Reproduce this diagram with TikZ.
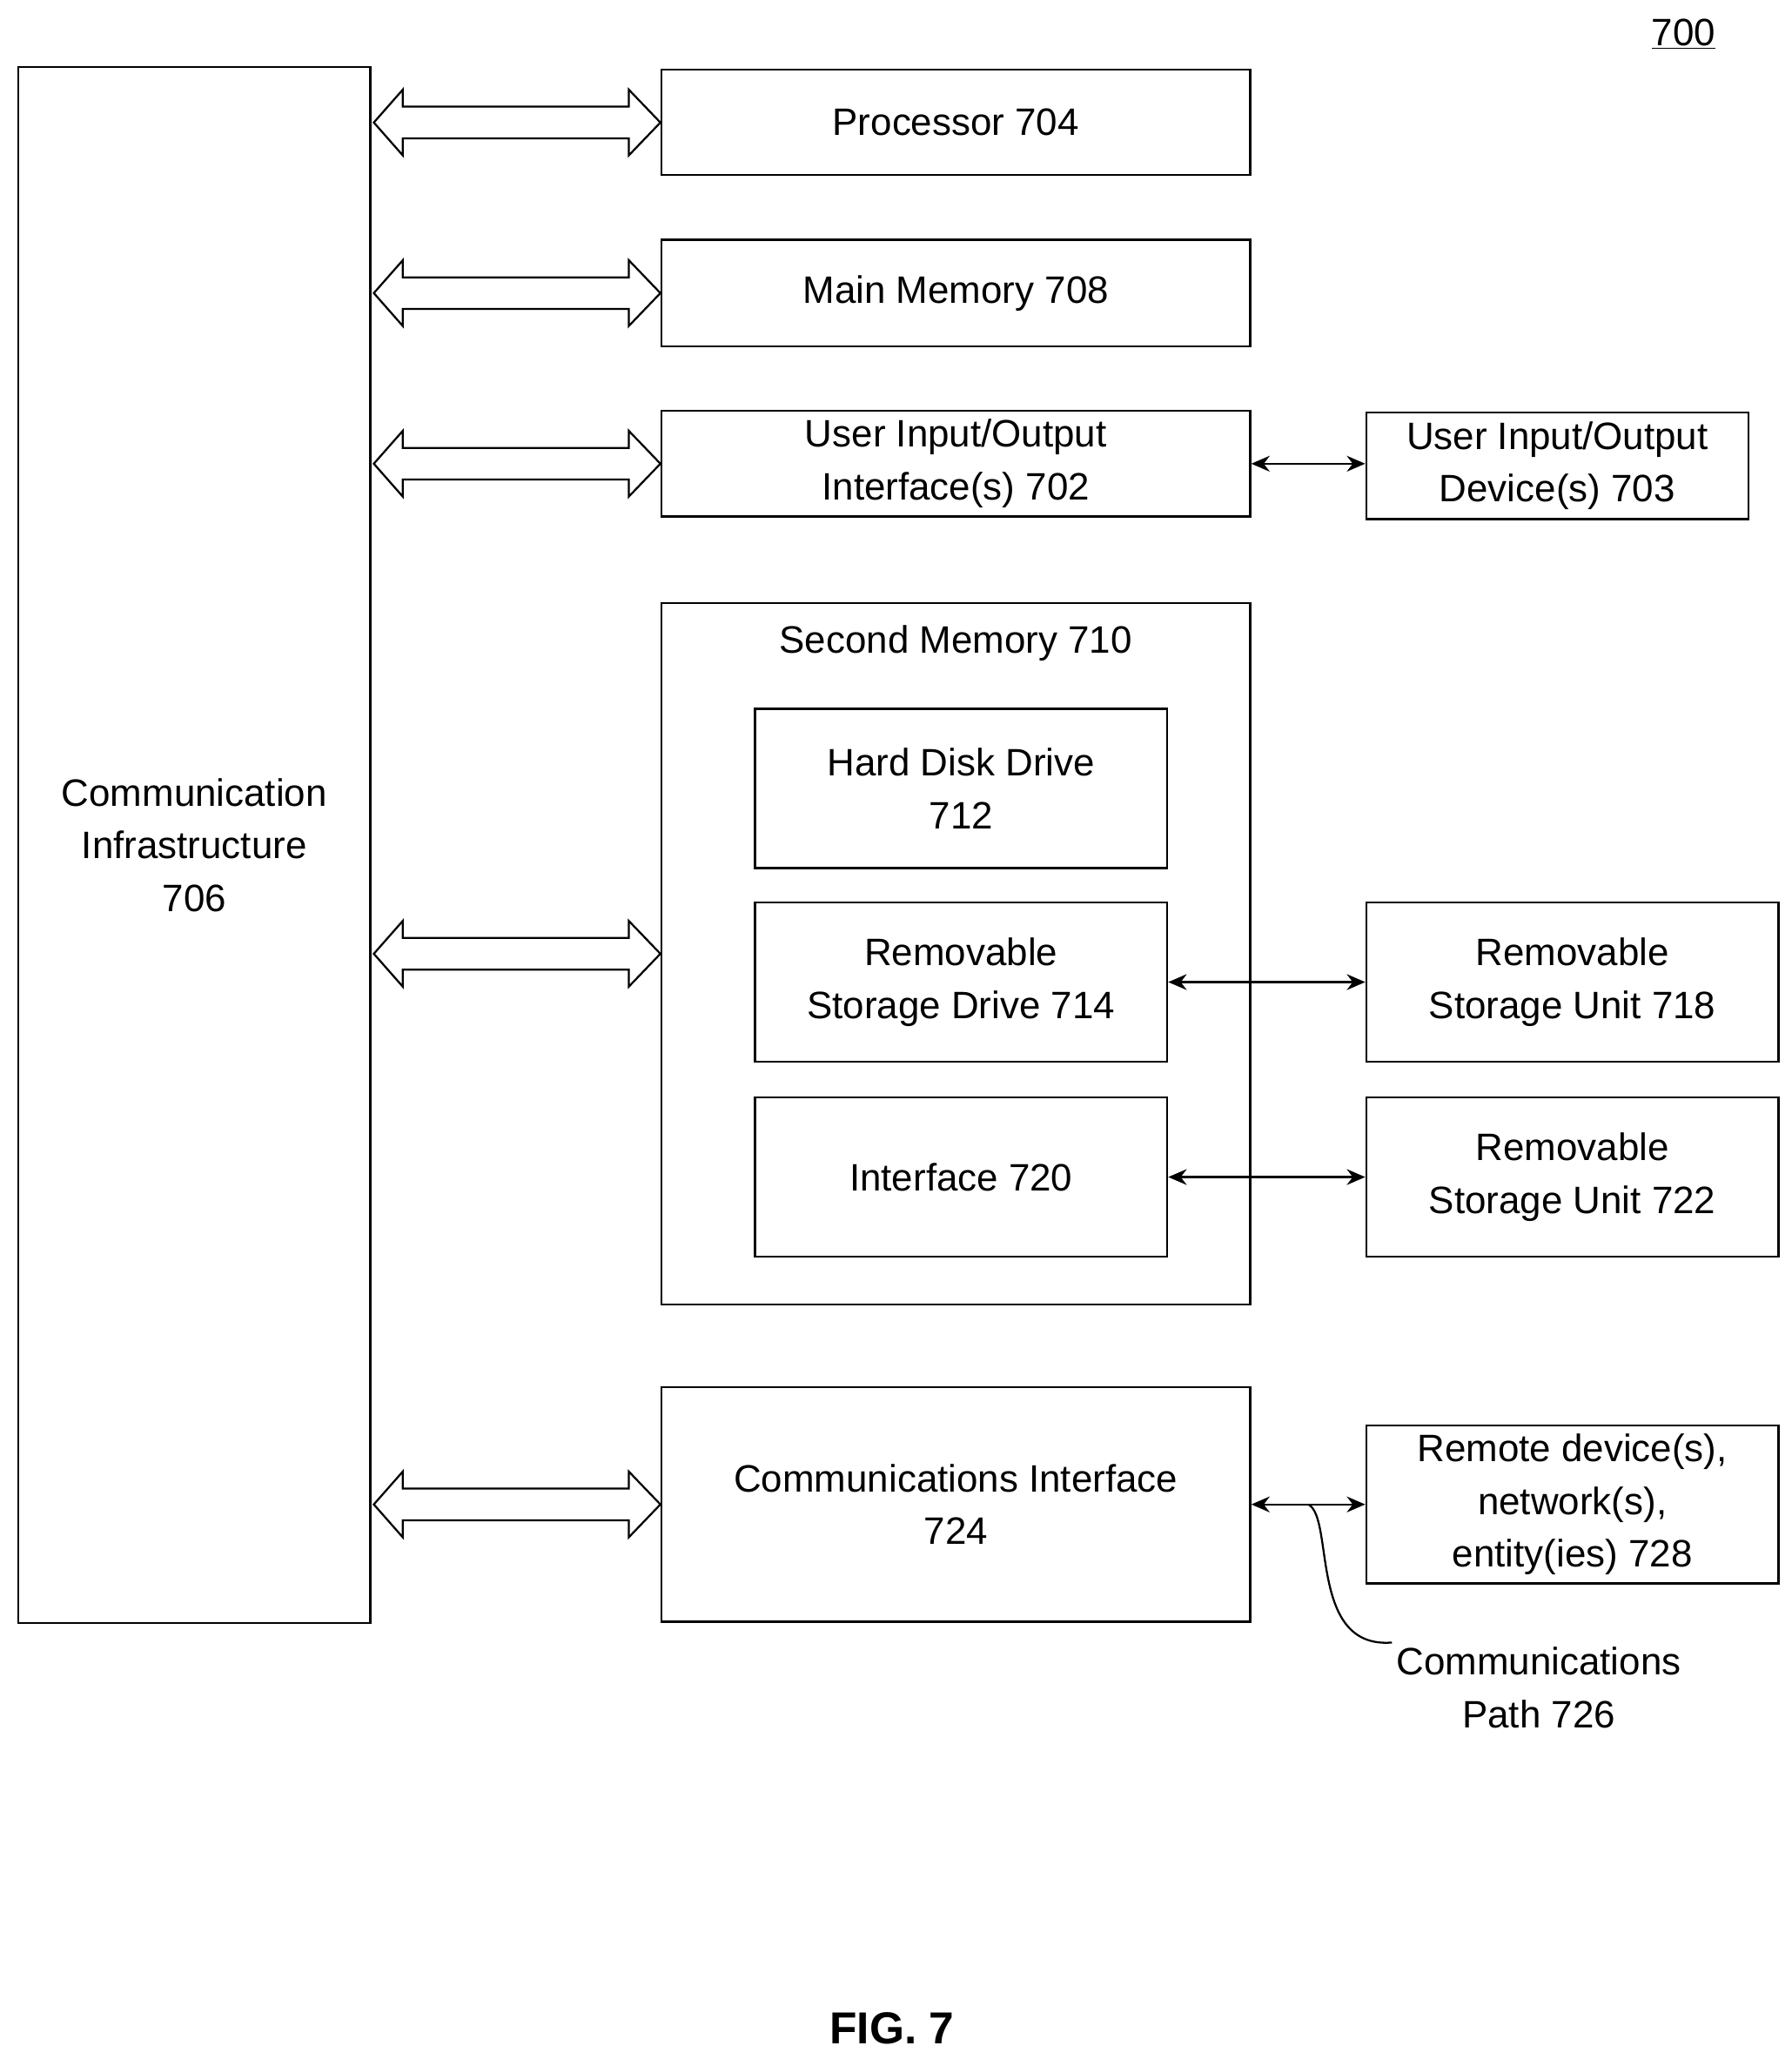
\documentclass[tikz,border=0pt]{standalone}
\usepackage{fontspec}
\setmainfont{Liberation Sans}
\usetikzlibrary{calc,arrows.meta}
\tikzset{
  box/.style={draw,line width=1.5pt,align=center,font=\fontsize{29}{40}\selectfont},
  link/.style={line width=1.5pt,{Stealth[length=14pt,width=12pt]}-{Stealth[length=14pt,width=12pt]}},
  bus/.style={draw,line width=1.5pt,fill=white}
}
% hollow double arrow from infra to a node's west side
\newcommand{\busarrow}[1]{%
  \path let \p1=(infra.east), \p2=(#1.west) in
    [bus] (\x1+2,\y2) -- (\x1+24,\y2+25) -- (\x1+24,\y2+12) -- (\x2-24,\y2+12) -- (\x2-24,\y2+25)
    -- (\x2,\y2) -- (\x2-24,\y2-25) -- (\x2-24,\y2-12) -- (\x1+24,\y2-12) -- (\x1+24,\y2-25) -- cycle;}
\begin{document}
\begin{tikzpicture}[x=1pt,y=1pt,yscale=-1]
\useasboundingbox (0,0) rectangle (1360,1563);
\node[box,minimum width=267pt,minimum height=1181pt] (infra) at (147.5,641.5) {Communication\\Infrastructure\\706};
\node[box,minimum width=447pt,minimum height=80pt] (proc) at (725.5,93) {Processor 704};
\node[box,minimum width=447pt,minimum height=81pt] (mem) at (725.5,222.5) {Main Memory 708};
\node[box,minimum width=447pt,minimum height=80pt] (uioif) at (725.5,352) {User Input/Output\\Interface(s) 702};
\node[box,minimum width=290pt,minimum height=81pt] (uiodev) at (1182,353.5) {User Input/Output\\Device(s) 703};
\node[box,minimum width=447pt,minimum height=532pt] (second) at (725.5,724) {};
\node[font=\fontsize{29}{40}\selectfont] (secondlbl) at (725.5,488) {Second Memory 710};
\node[box,minimum width=313pt,minimum height=121pt] (hdd) at (729.5,598.5) {Hard Disk Drive\\712};
\node[box,minimum width=313pt,minimum height=121pt] (rsd) at (729.5,745.5) {Removable\\Storage Drive 714};
\node[box,minimum width=313pt,minimum height=121pt] (iface) at (729.5,893.5) {Interface 720};
\node[box,minimum width=313pt,minimum height=121pt] (rsu1) at (1193.5,745.5) {Removable\\Storage Unit 718};
\node[box,minimum width=313pt,minimum height=121pt] (rsu2) at (1193.5,893.5) {Removable\\Storage Unit 722};
\node[box,minimum width=447pt,minimum height=178pt] (comm) at (725.5,1142) {Communications Interface\\724};
\node[box,minimum width=313pt,minimum height=120pt] (remote) at (1193.5,1142) {Remote device(s),\\network(s),\\entity(ies) 728};
\node[align=center,font=\fontsize{29}{40}\selectfont] (path) at (1168,1281) {Communications\\Path 726};
\node[font=\fontsize{29}{40}\selectfont] (fignum) at (1278,26) {\underline{700}};
\node[font=\bfseries\fontsize{34}{40}\selectfont] (fig) at (677,1540) {FIG. 7};
\busarrow{proc}
\busarrow{mem}
\busarrow{uioif}
\busarrow{second}
\busarrow{comm}
\draw[link] (uioif.east) -- (uiodev.west |- uioif.east);
\draw[link] (rsd.east) -- (rsu1.west);
\draw[link] (iface.east) -- (rsu2.west);
\draw[link] (comm.east) -- (remote.west);
\coordinate (tap) at ($(comm.east)!0.5!(remote.west)$);
\draw[line width=1.5pt] (tap) .. controls ($(tap)+(20,10)$) and ($(tap)+(0,110)$) .. (path.north west);
\end{tikzpicture}
\end{document}
